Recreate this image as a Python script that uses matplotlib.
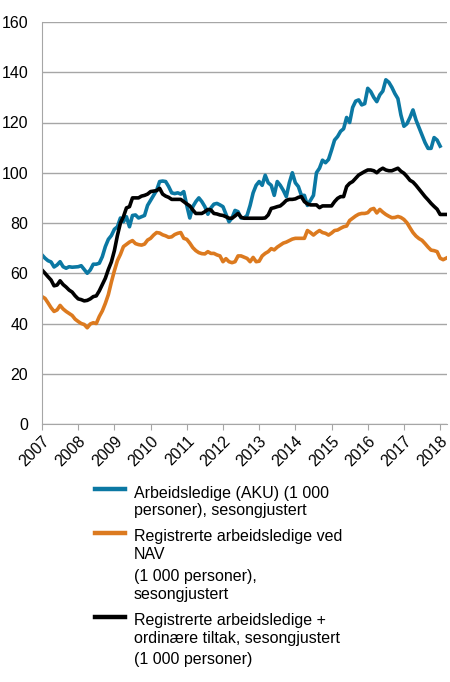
import numpy as np
import matplotlib
matplotlib.use('Agg')
import matplotlib.pyplot as plt
from matplotlib.lines import Line2D

plt.rcParams['font.family'] = ['Liberation Sans', 'DejaVu Sans']

# monthly values, Jan 2007 ->
aku = [67.3, 66, 65, 64.5, 62.5, 63.3, 64.6, 62.6, 62, 62.6, 62.4, 62.5,
       62.6, 63, 61.5, 60, 61.3, 63.6, 63.6, 64, 66.6, 70.6, 73.5, 75,
       77.5, 78.5, 82, 80.5, 82.5, 78.5, 83, 83.2, 82, 82.5, 83, 87,
       89, 91, 93, 96.5, 96.7, 96.5, 94.5, 92, 91.7, 92, 91.5, 92.5,
       87, 82, 86.5, 88.5, 90, 88.5, 86.5, 83.5, 86, 87.5, 87.8, 87.2,
       86.5, 83.5, 80.5, 82, 85, 84.5, 82, 82, 83, 87, 92, 95,
       96.5, 95, 99, 96, 95, 91, 96.5, 95, 93, 90.5, 96, 100,
       96, 94.5, 91, 91, 87, 89, 91, 100, 101.8, 105, 104, 105.3,
       109, 113, 114.4, 116.5, 117.5, 122, 120, 126, 128.5, 129, 127, 127.5,
       133.6, 132.3, 130, 128.3, 131, 132.5, 137, 136, 134, 131.5, 129.5, 123,
       118.5, 119.5, 122, 125, 121, 118, 115, 112, 109.7, 109.7, 114, 113,
       110.6]

nav = [50.7, 50, 48.2, 46.3, 44.8, 45.4, 47.2, 45.8, 44.8, 44, 43.2, 41.7,
       40.8, 40, 39.6, 38.3, 39.8, 40.3, 40, 42.8, 45, 48, 51.5, 56.5,
       61, 65, 67.5, 70.6, 71.5, 72.4, 73, 71.8, 71.4, 71.2, 71.6, 73.2,
       73.9, 75.2, 76.2, 76, 75.3, 74.9, 74.3, 74.5, 75.4, 75.9, 76.2, 73.9,
       73.5, 72, 70.2, 69, 68.2, 67.8, 67.7, 68.6, 67.9, 67.9, 67.3, 66.9,
       64.6, 65.8, 64.6, 64.2, 64.6, 66.9, 66.9, 66.4, 65.9, 64.6, 66.3, 64.6,
       64.8, 66.9, 67.9, 68.6, 69.8, 69.3, 70.4, 71.2, 72, 72.4, 73, 73.6,
       73.9, 73.9, 73.9, 73.9, 77, 76.2, 75.2, 76.2, 77, 76.2, 75.9, 75.2,
       76, 77, 77.2, 77.9, 78.5, 78.8, 81, 81.9, 82.8, 83.5, 83.8, 83.8,
       84.1, 85.4, 85.8, 84, 85.4, 84.3, 83.4, 82.7, 82.1, 82.2, 82.6, 82.2,
       81.4, 80.1, 78.1, 76.2, 74.8, 73.8, 73.1, 71.8, 70.4, 69.2, 69, 68.6,
       66, 65.4, 66]

nav_tiltak = [61.3, 60, 58.6, 57.3, 55, 55.3, 57, 55.5, 54.5, 53.3, 52.5, 51,
              49.8, 49.5, 49, 49.2, 49.8, 50.7, 51, 53, 55.5, 58, 61.5, 64.5,
              69, 75, 80, 82.5, 86, 86.5, 90, 90, 90, 90.7, 91, 91.5,
              92.5, 92.7, 92.9, 93.8, 91.5, 90.7, 90.2, 89.4, 89.4, 89.4, 89.4, 88.5,
              87.6, 86.8, 85.2, 83.8, 83.8, 83.8, 84.5, 85.4, 85.2, 83.8, 83.6, 83.2,
              83, 82.5, 81.9, 81.9, 82.8, 83.8, 82.3, 81.9, 81.9, 81.9, 81.9, 81.9,
              81.9, 81.9, 82, 83.2, 85.8, 86.1, 86.5, 86.8, 87.8, 89, 89.4, 89.4,
              89.6, 90.2, 90.5, 88.5, 87.6, 87.2, 87.2, 87.2, 86.1, 86.8, 86.8, 86.8,
              86.8, 88.5, 89.8, 90.5, 90.5, 94.5, 95.8, 96.5, 97.8, 99.1, 99.8, 100.5,
              101.1, 101.1, 100.8, 100, 101.1, 101.8, 101.1, 100.8, 100.8, 101.3, 101.8, 100.6,
              99.8, 98.5, 97, 96.3, 95, 93.5, 92, 90.5, 89.2, 87.8, 86.6, 85.5,
              83.4, 83.4, 83.4]

years = list(range(2007, 2019))
labels = [['Arbeidsledige (AKU) (1 000', 'personer), sesongjustert'],
          ['Registrerte arbeidsledige ved', 'NAV', '(1 000 personer),', 'sesongjustert'],
          ['Registrerte arbeidsledige +', 'ordinære tiltak, sesongjustert', '(1 000 personer)']]
colors = ['#0b78a3', '#dc7a1f', '#000000']

W, H = 450, 682
# legend layout in pixels from top (line centres)
leg_rows = [[491.7, 509.5], [535, 553.3, 575, 592.7], [619.3, 637.5, 658.3]]


def month_x(series):
    return 2007 + np.arange(len(series)) / 12.0


fig = plt.figure(figsize=(4.5, 6.82), dpi=100)
ax = fig.add_axes([42 / W, 1 - 424 / H, 405 / W, 402 / H])

for s, c in zip([aku, nav, nav_tiltak], colors):
    ax.plot(month_x(s), s, color=c, lw=2.6, solid_joinstyle='round')

ax.set_xlim(2007, 2018.19)
ax.set_ylim(0, 160)
ax.set_yticks(range(0, 161, 20))
ax.yaxis.grid(True, color='#a6a6a6', lw=1)
ax.set_axisbelow(True)
ax.tick_params(axis='y', length=0, labelsize=11.5, pad=10)
ax.set_xticks(years)
ax.set_xticklabels([str(y) for y in years], rotation=45, ha='right', va='top',
                   rotation_mode='anchor', fontsize=11.5)
ax.tick_params(axis='x', length=4, color='#a6a6a6', pad=3)
for side in ['top', 'right']:
    ax.spines[side].set_visible(False)
for side in ['left', 'bottom']:
    ax.spines[side].set_color('#a6a6a6')

# legend drawn by hand so each line sits at the first text row
for lines, rows, c in zip(labels, leg_rows, colors):
    yh = 1 - (rows[0] - 2.5) / H
    fig.add_artist(Line2D([95 / W, 125 / W], [yh, yh], color=c, lw=3.2,
                          transform=fig.transFigure))
    for txt, r in zip(lines, rows):
        fig.text(134 / W, 1 - r / H, txt, fontsize=11.5, va='center_baseline',
                 ha='left')

fig.savefig('out.png', dpi=100)
